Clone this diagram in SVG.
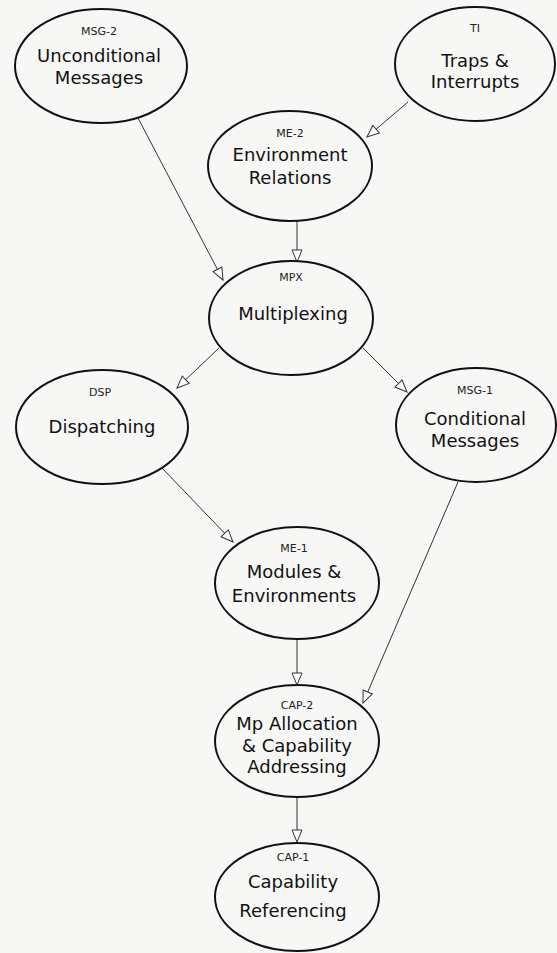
<svg xmlns="http://www.w3.org/2000/svg" width="557" height="953" viewBox="0 0 557 953">
<style>
.bg{fill:#f7f7f5}
.node ellipse{fill:none;stroke:#111;stroke-width:2}
.code{font-family:"DejaVu Sans",sans-serif;font-size:11px;fill:#222;text-anchor:middle}
.name{font-family:"DejaVu Sans",sans-serif;font-size:18px;fill:#111;text-anchor:middle}
.edge{stroke:#333;stroke-width:1;fill:none;marker-end:url(#tri)}
</style>
<defs>
<marker id="tri" markerUnits="userSpaceOnUse" markerWidth="16" markerHeight="14" refX="13" refY="6" orient="auto">
<path d="M1,1 L13,6 L1,11 Z" fill="#fff" stroke="#333" stroke-width="1"/>
</marker>
</defs>
<rect class="bg" width="557" height="953"/>
<g id="connectors">
<line class="edge" x1="138" y1="118" x2="223" y2="280"/>
<line class="edge" x1="408" y1="102" x2="367" y2="137"/>
<line class="edge" x1="297" y1="221" x2="297" y2="262"/>
<line class="edge" x1="219" y1="348" x2="177" y2="388"/>
<line class="edge" x1="363" y1="348" x2="407" y2="392"/>
<line class="edge" x1="162" y1="468" x2="233" y2="542"/>
<line class="edge" x1="297" y1="638" x2="297" y2="685"/>
<line class="edge" x1="458" y1="482" x2="363" y2="703"/>
<line class="edge" x1="297" y1="797" x2="297" y2="842"/>
</g>
<g id="MSG-2" class="node">
<ellipse cx="101" cy="66" rx="86" ry="57"/>
<text class="code" x="99" y="35">MSG-2</text>
<text class="name" x="99" y="62">Unconditional</text>
<text class="name" x="99" y="84">Messages</text>
</g>
<g id="TI" class="node">
<ellipse cx="475" cy="64" rx="80" ry="57"/>
<text class="code" x="475" y="32">TI</text>
<text class="name" x="475" y="67">Traps &amp;</text>
<text class="name" x="475" y="88">Interrupts</text>
</g>
<g id="ME-2" class="node">
<ellipse cx="290" cy="166" rx="82" ry="55"/>
<text class="code" x="290" y="137">ME-2</text>
<text class="name" x="290" y="161">Environment</text>
<text class="name" x="290" y="184">Relations</text>
</g>
<g id="MPX" class="node">
<ellipse cx="291" cy="318" rx="82" ry="57"/>
<text class="code" x="291" y="281">MPX</text>
<text class="name" x="293" y="320">Multiplexing</text>
</g>
<g id="DSP" class="node">
<ellipse cx="102" cy="427" rx="86" ry="57"/>
<text class="code" x="100" y="396">DSP</text>
<text class="name" x="102" y="433">Dispatching</text>
</g>
<g id="MSG-1" class="node">
<ellipse cx="476" cy="425" rx="80" ry="57"/>
<text class="code" x="475" y="394">MSG-1</text>
<text class="name" x="475" y="425">Conditional</text>
<text class="name" x="475" y="447">Messages</text>
</g>
<g id="ME-1" class="node">
<ellipse cx="297" cy="583" rx="82" ry="56"/>
<text class="code" x="294" y="552">ME-1</text>
<text class="name" x="294" y="578">Modules &amp;</text>
<text class="name" x="294" y="602">Environments</text>
</g>
<g id="CAP-2" class="node">
<ellipse cx="297" cy="741" rx="82" ry="56"/>
<text class="code" x="297" y="709">CAP-2</text>
<text class="name" x="297" y="730">Mp Allocation</text>
<text class="name" x="297" y="752">&amp; Capability</text>
<text class="name" x="297" y="773">Addressing</text>
</g>
<g id="CAP-1" class="node">
<ellipse cx="297" cy="897" rx="82" ry="54"/>
<text class="code" x="293" y="861">CAP-1</text>
<text class="name" x="293" y="888">Capability</text>
<text class="name" x="293" y="917">Referencing</text>
</g>
</svg>
